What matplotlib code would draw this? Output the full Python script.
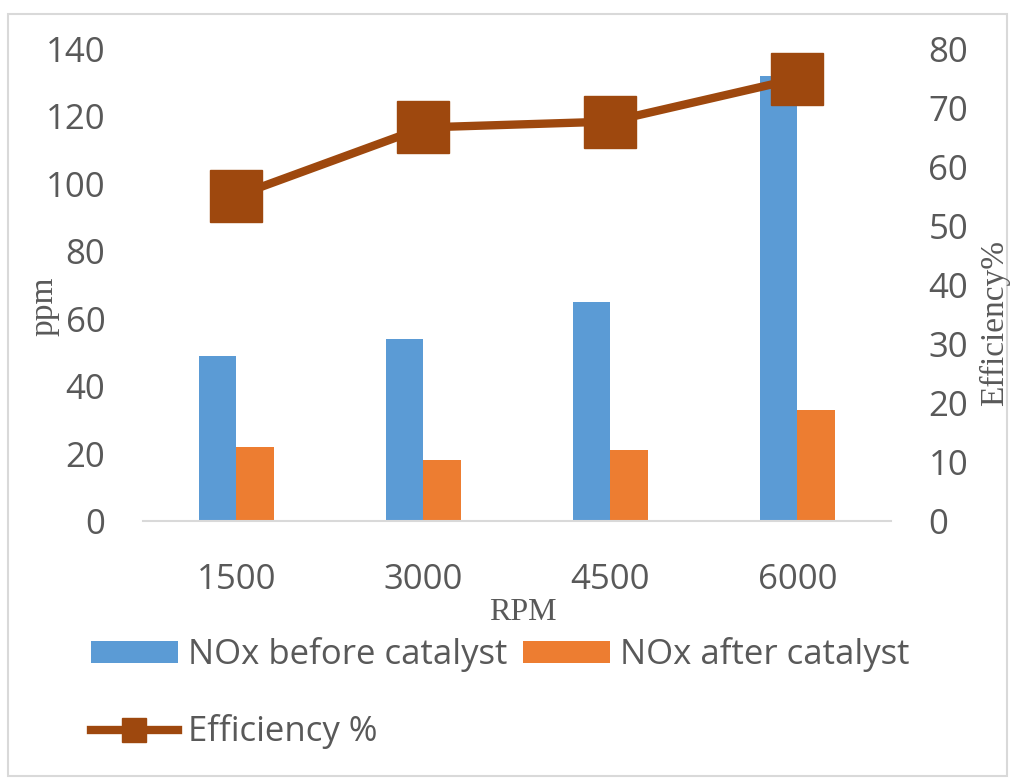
import matplotlib
matplotlib.use('Agg')
import matplotlib.pyplot as plt
import numpy as np
from matplotlib.patches import Rectangle

plt.rcParams['font.family'] = ['Open Sans', 'DejaVu Sans']

rpm = ['1500', '3000', '4500', '6000']
nox_before = [49, 54, 65, 132]
nox_after = [22, 18, 21, 33]
efficiency = [55.1, 66.7, 67.7, 75.0]

W, H = 1012, 780
fig = plt.figure(figsize=(W / 100, H / 100), dpi=100)
ax = fig.add_axes([143 / W, 1 - 521 / H, 748 / W, (521 - 49) / H])

x = np.arange(len(rpm))
bw = 0.203
b1 = ax.bar(x - bw / 2, nox_before, bw, color='#5B9BD5', label='NOx before catalyst', zorder=2)
b2 = ax.bar(x + bw / 2, nox_after, bw, color='#ED7D31', label='NOx after catalyst', zorder=2)
ax.set_xlim(-0.5, 3.5)
ax.set_ylim(0, 140)
ax.set_yticks(range(0, 141, 20))
ax.set_xticks(x)
ax.set_xticklabels(rpm)
for s in ['top', 'left', 'right']:
    ax.spines[s].set_visible(False)
ax.spines['bottom'].set_color('#D9D9D9')
ax.spines['bottom'].set_linewidth(1.5)
ax.tick_params(length=0, labelsize=25, colors='#595959')
ax.tick_params(axis='y', pad=27)
ax.tick_params(axis='x', pad=30)

ax2 = ax.twinx()
ax2.set_ylim(0, 80)
ax2.set_yticks(range(0, 81, 10))
for s in ['top', 'left', 'right', 'bottom']:
    ax2.spines[s].set_visible(False)
ax2.tick_params(length=0, labelsize=25, colors='#595959', pad=27)
l_eff, = ax2.plot(x, efficiency, color='#9E480E', lw=6, marker='s', ms=37,
                  label='Efficiency %', zorder=3)

fig.legend(handles=[b1, l_eff, b2],
           labels=['NOx before catalyst', 'Efficiency %', 'NOx after catalyst'],
           ncol=2, loc='upper left', bbox_to_anchor=(91 / W, 1 - 637 / H),
           frameon=False, fontsize=25, handlelength=2.5, handleheight=0.6,
           handletextpad=0.3, columnspacing=0.45, labelspacing=1.22,
           borderpad=0, borderaxespad=0, markerscale=0.45, labelcolor='#595959')

fig.text(44 / W, 1 - 306 / H, 'ppm', rotation=90, family='Liberation Serif',
         fontsize=24, color='#595959', ha='center', va='center')
fig.text(995 / W, 1 - 323 / H, 'Efficiency%', rotation=90, family='Liberation Serif',
         fontsize=24, color='#595959', ha='center', va='center')
fig.text(523 / W, 1 - 613 / H, 'RPM', family='Liberation Serif',
         fontsize=23, color='#595959', ha='center', va='center')

fig.patches.append(Rectangle((8 / W, 1 - 776 / H), (1007 - 8) / W, (776 - 14) / H,
                             transform=fig.transFigure, fill=False,
                             edgecolor='#D9D9D9', lw=1.5))

fig.savefig('out.png', dpi=100)
